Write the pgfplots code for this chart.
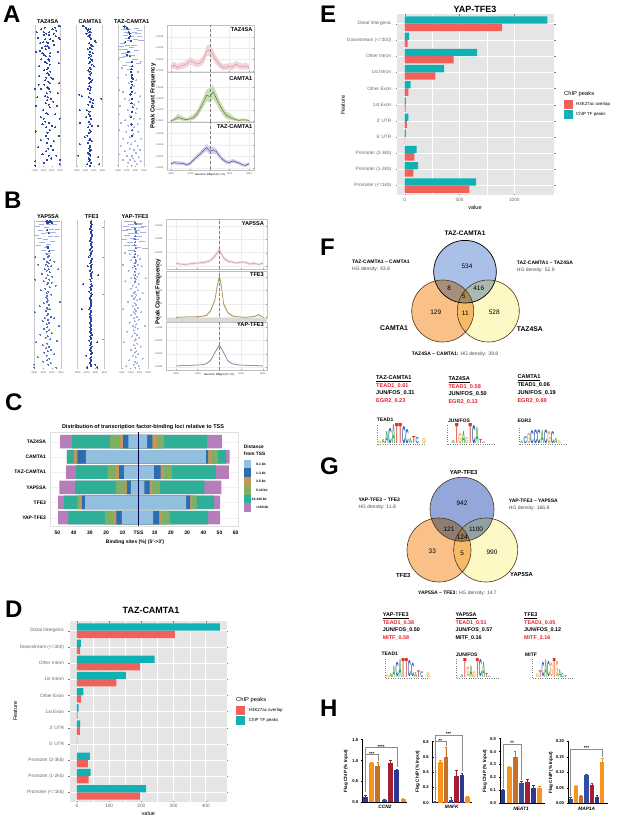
\documentclass[border=0pt]{standalone}
\usepackage{fontspec}
\setmainfont{Liberation Sans}
\usepackage{pgfplots}
\usepackage{pgfplotstable}
\pgfplotsset{compat=1.18}

\definecolor{ggrey}{HTML}{E5E5E5}
\definecolor{chipred}{HTML}{F2605C}
\definecolor{chipteal}{HTML}{0FB1B5}
\definecolor{rasterblue}{HTML}{2A46A0}
\definecolor{rastermid}{HTML}{5A70BC}
\definecolor{rasterlight}{HTML}{A4B2E2}
\definecolor{c01}{HTML}{93BFDF}
\definecolor{c13}{HTML}{2A6DB0}
\definecolor{c35}{HTML}{C2975A}
\definecolor{c510}{HTML}{7FAF64}
\definecolor{c10}{HTML}{2FB096}
\definecolor{c100}{HTML}{B67DBB}
\definecolor{hnavy}{HTML}{2B3990}
\definecolor{horange}{HTML}{F7941D}
\definecolor{hbrown}{HTML}{C46F2B}
\definecolor{hblue}{HTML}{2F4FA5}
\definecolor{hred}{HTML}{A41E34}
\definecolor{logoA}{HTML}{3DA447}
\definecolor{logoC}{HTML}{2F5FB3}
\definecolor{logoG}{HTML}{F0A030}
\definecolor{logoT}{HTML}{D9352B}
\definecolor{mut}{HTML}{E8202E}
\definecolor{vennBlueF}{HTML}{ABC0E8}
\definecolor{vennBlueG}{HTML}{93A7DA}
\definecolor{vennOrange}{HTML}{F9C088}
\definecolor{vennYellow}{HTML}{FDF8C4}
\definecolor{bandAa}{HTML}{F6D5DA}
\definecolor{lineAa}{HTML}{C89AA6}
\definecolor{bandAb}{HTML}{BFE3B4}
\definecolor{lineAb}{HTML}{A8503C}
\definecolor{bandAc}{HTML}{D2D0EE}
\definecolor{lineAc}{HTML}{6B4080}
\definecolor{bandBa}{HTML}{F0DFE6}
\definecolor{lineBa}{HTML}{C79BB0}
\definecolor{bandBb}{HTML}{D5E3B5}
\definecolor{lineBb}{HTML}{A8804A}
\definecolor{bandBc}{HTML}{E2DBEA}
\definecolor{lineBc}{HTML}{8A6F8E}

% everything is placed in picture pixels: 1px = 1pt, y counted down from the top
\newcommand\lbl[5]{\node[anchor=#3,inner sep=0pt,font=\fontsize{#4}{#4}\selectfont] at (#1pt,-#2pt) {#5};}
\newcommand\swatch[5]{\fill[#5] (#1pt,-#2pt) rectangle (#3pt,-#4pt);}

\newcommand\seqlogo[5]{%
  \foreach \col/\bs/\hgt/\ltr in #5 {%
    \pgfmathsetmacro\xx{#1+\col*#3}%
    \pgfmathsetmacro\yy{-#2+\bs*#4}%
    \pgfmathsetmacro\hh{\hgt*#4}%
    \node[anchor=south west,inner sep=0pt,text=logo\ltr] at (\xx pt,\yy pt) {\resizebox{#3 pt}{\hh pt}{\bfseries\ltr}};%
  }
  \pgfmathsetmacro\xe{#1+14*#3}%
  \draw[black!50,line width=.3pt,dotted] (#1pt,-#2pt-.6pt) -- (\xe pt,-#2pt-.6pt);
  \draw[black!50,line width=.3pt,dotted] (#1pt-1pt,-#2pt) -- (#1pt-1pt,-#2pt+#4pt);
}
\newcommand\teadlogo{0/0/.12/G,1/0/.2/A,2/0/.6/A,3/0/.75/C,4/0/.95/A,5/0/1/T,6/0/1/T,7/0/.85/C,8/0/.7/C,9/0/.25/A,10/0/.35/T,11/0/.3/C,13/0/.25/G}
\newcommand\junlogo{1/0/.15/A,2/0/1/T,3/0/.5/G,4/0/.6/A,5/0/.3/G,6/0/1/T,7/0/.9/C,8/0/.8/A,9/0/.2/T,10/0/.06/C}
\newcommand\egrlogo{0/0/.15/A,1/0/.4/C,2/0/.6/G,3/0/.75/C,4/0/.8/C,5/0/.8/C,6/0/.75/A,7/0/.8/C,8/0/.7/G,9/0/.7/C,10/0/.3/A,11/0/.15/G}
\newcommand\mitflogo{1/0/.2/G,2/0/.35/T,3/0/.75/C,4/0/.95/A,5/0/.8/C,6/0/.7/G,7/0/1/T,8/0/.8/G,9/0/.4/A,10/0/.2/C,11/0/.1/T}

\pgfplotsset{
  pxaxis/.style={scale only axis,anchor=north west,/pgf/number format/assume math mode=true,/pgf/number format/1000 sep={}},
  raster/.style={pxaxis,xmin=-3000,xmax=3000,ymin=0,ymax=100,y dir=reverse,
    ytick=\empty,xtick={-3000,-1000,1000,3000},
    xticklabels={-3000,-1000,1000,3000},
    tick label style={font=\fontsize{2.4}{3}\selectfont,text=black!70},
    major tick length=1.2pt,tick style={black!40},xtick pos=bottom,
    xticklabel style={yshift=1pt},
    separate axis lines,
    axis line style={draw=black!22,line width=.9pt},
    every outer x axis line/.append style={draw=none},
    clip=false},
  dots/.style={only marks,mark=*,mark size=.52pt,color=rasterblue,draw=rasterblue,fill=rasterblue,mark options={line width=0pt}},
  mdots/.style={only marks,mark=*,mark size=.5pt,color=rastermid,draw=rastermid,fill=rastermid,mark options={line width=0pt}},
  ldots/.style={only marks,mark=*,mark size=.5pt,color=rasterlight,draw=rasterlight,fill=rasterlight,mark options={line width=0pt}},
  dashes/.style={only marks,mark=-,mark size=2.6pt,color=rasterlight,mark options={line width=.5pt}},
  peak/.style={pxaxis,axis line style={draw=black!25,line width=.5pt},
    grid=major,grid style={black!7,line width=.3pt},
    tick label style={font=\fontsize{2.4}{3}\selectfont,text=black!70},
    major tick length=1pt,tick style={black!40},
    ytick={1,2,3,4},yticklabels={0.0001,0.0002,0.0003,0.0004},
    xtick={-3000,-1500,0,1500,3000},xticklabels=\empty,ymin=.9},
  chip/.style={pxaxis,xbar,axis background/.style={fill=ggrey},
    axis line style={draw=none},grid=both,major grid style={white,line width=.6pt},
    minor grid style={white,line width=.3pt},minor x tick num=1,
    ymin=-.6,ymax=10.6,ytick={0,...,10},
    yticklabels={Promoter (<=1kb),Promoter (1-2kb),Promoter (2-3kb),5' UTR,3' UTR,1st Exon,Other Exon,1st Intron,Other Intron,Downstream (<=300),Distal Intergenic},
    tick label style={font=\fontsize{4.7}{5}\selectfont,text=black!60},
    major tick length=1.5pt,tick style={black!50},minor tick length=0pt,
    xticklabel style={yshift=1pt},yticklabel style={xshift=-1pt}},
  hbars/.style={pxaxis,axis x line=bottom,axis y line=left,axis line style={-,line width=.7pt,black},
    xtick=\empty,clip=false,ymin=0,
    tick label style={font=\fontsize{4.2}{5}\selectfont\bfseries},
    major tick length=2pt,tick style={black,line width=.5pt},
    yticklabel style={xshift=.5pt}}
}
\newcommand\chipbar[5]{\addplot[ybar,bar width=#5pt,bar shift=0pt,fill=#4,draw=none,
    error bars/.cd,y dir=plus,y explicit,
    error bar style={draw=#4,line width=.5pt},
    error mark options={rotate=90,mark size=1.2pt,draw=#4,line width=.4pt}]
    coordinates {(#1,#2) +- (0,#3)};}
\newcommand\sigline[1]{\addplot[black!45,line width=.5pt,sharp plot,forget plot] coordinates {#1};}
% one profile: band between lo and hi, mean line on top, dashed TSS mark
\newcommand\profile[4]{%
  \addplot[draw=none,forget plot,stack plots=y] table[x=x,y=lo] {#1};
  \addplot[fill=#2,draw=none,forget plot,stack plots=y] table[x=x,y expr=\thisrow{hi}-\thisrow{lo}] {#1} \closedcycle;
  \addplot[color=#3,line width=.5pt,stack plots=false] table[x=x,y=y] {#1};
  \addplot[black!50,densely dashed,line width=.4pt,stack plots=false] coordinates {(0,0)(0,#4)};
}

% peak profiles: position, mean, band
\pgfplotstableread{
x y lo hi
-3000 1.35 1.05 1.65
-2750 1.50 1.20 1.80
-2500 1.30 1.05 1.60
-2250 1.45 1.15 1.75
-2000 1.50 1.20 1.80
-1750 1.65 1.35 2.00
-1500 1.90 1.55 2.25
-1250 1.75 1.45 2.05
-1000 1.60 1.30 1.90
-750 1.70 1.40 2.05
-500 2.00 1.60 2.40
-250 2.75 2.30 3.25
0 2.85 2.35 3.35
250 2.40 1.95 2.85
500 1.90 1.50 2.30
750 1.55 1.25 1.90
1000 1.30 1.05 1.60
1250 1.35 1.10 1.65
1500 1.40 1.10 1.70
1750 1.35 1.10 1.65
2000 1.60 1.30 1.90
2250 1.45 1.15 1.75
2500 1.35 1.10 1.65
2750 1.45 1.15 1.75
3000 1.30 1.05 1.60
}\peakAa
\pgfplotstableread{
x y lo hi
-3000 1.03 .98 1.10
-2750 1.10 1.00 1.25
-2500 1.30 1.10 1.60
-2250 1.25 1.05 1.50
-2000 1.15 1.00 1.35
-1750 1.10 1.00 1.25
-1500 1.20 1.05 1.45
-1250 1.30 1.10 1.60
-1000 1.60 1.30 1.95
-750 2.10 1.75 2.50
-500 2.70 2.25 3.15
-250 3.30 2.75 3.85
0 3.20 2.70 3.95
250 3.60 3.00 4.20
500 3.00 2.50 3.55
750 2.40 1.95 2.85
1000 1.90 1.50 2.30
1250 1.50 1.20 1.85
1500 1.35 1.10 1.70
1750 1.20 1.05 1.45
2000 1.10 1.00 1.25
2250 1.05 .98 1.18
2500 1.10 1.00 1.22
2750 1.08 1.00 1.18
3000 1.05 .98 1.12
}\peakAb
\pgfplotstableread{
x y lo hi
-3000 1.35 1.20 1.50
-2750 1.45 1.30 1.60
-2500 1.40 1.25 1.55
-2250 1.40 1.25 1.55
-2000 1.35 1.20 1.50
-1750 1.25 1.12 1.40
-1500 1.40 1.25 1.55
-1250 1.70 1.52 1.88
-1000 1.95 1.75 2.15
-750 2.20 2.00 2.42
-500 2.50 2.25 2.75
-250 2.75 2.45 3.10
0 2.45 2.15 2.80
250 2.55 2.25 2.85
500 2.40 2.15 2.68
750 2.00 1.80 2.22
1000 1.70 1.52 1.88
1250 1.50 1.35 1.68
1500 1.45 1.30 1.62
1750 1.60 1.42 1.78
2000 1.50 1.35 1.65
2250 1.40 1.25 1.55
2500 1.25 1.12 1.40
2750 1.20 1.08 1.35
3000 1.35 1.20 1.50
}\peakAc
\pgfplotstableread{
x y lo hi
-3000 1.22 1.12 1.32
-2700 1.15 1.05 1.25
-2400 1.12 1.04 1.22
-2100 1.15 1.05 1.25
-1800 1.20 1.10 1.30
-1500 1.22 1.12 1.32
-1200 1.25 1.15 1.36
-900 1.30 1.20 1.42
-600 1.40 1.30 1.54
-300 1.75 1.60 1.92
0 2.20 2.00 2.42
300 1.60 1.46 1.76
600 1.35 1.24 1.47
900 1.30 1.20 1.40
1200 1.22 1.12 1.32
1500 1.30 1.20 1.40
1800 1.28 1.18 1.38
2100 1.15 1.05 1.25
2400 1.20 1.10 1.30
2700 1.12 1.04 1.22
3000 1.20 1.10 1.30
}\peakBa
\pgfplotstableread{
x y lo hi
-3000 1.02 .98 1.06
-2700 1.03 .99 1.07
-2400 1.04 1.00 1.08
-2100 1.06 1.02 1.10
-1800 1.05 1.01 1.09
-1500 1.07 1.03 1.11
-1200 1.10 1.05 1.15
-900 1.15 1.09 1.22
-600 1.50 1.40 1.62
-300 2.30 2.15 2.48
-150 3.30 3.10 3.50
0 4.05 3.85 4.25
150 3.30 3.10 3.50
300 2.00 1.86 2.16
600 1.35 1.26 1.45
900 1.12 1.07 1.18
1200 1.07 1.03 1.11
1500 1.04 1.00 1.08
1800 1.02 .98 1.06
2100 1.05 1.01 1.09
2400 1.08 1.04 1.12
2700 1.20 1.13 1.27
3000 1.05 1.01 1.09
}\peakBb
\pgfplotstableread{
x y lo hi
-3000 1.10 1.06 1.14
-2700 1.10 1.06 1.14
-2400 1.12 1.08 1.16
-2100 1.12 1.08 1.16
-1800 1.14 1.10 1.18
-1500 1.15 1.11 1.19
-1200 1.18 1.13 1.23
-900 1.25 1.19 1.31
-600 1.50 1.42 1.58
-300 2.10 2.00 2.20
0 2.65 2.52 2.78
300 2.10 2.00 2.20
600 1.45 1.38 1.53
900 1.25 1.19 1.31
1200 1.18 1.13 1.23
1500 1.15 1.11 1.19
1800 1.14 1.10 1.18
2100 1.12 1.08 1.16
2400 1.12 1.08 1.16
2700 1.10 1.06 1.14
3000 1.10 1.06 1.14
}\peakBc

% cumulative distance classes from the TSS, one row per factor
\pgfplotstableread{
row a b c d e f
0 -6.2 -9.5 -11.7 -17.5 -41.0 -48.4
1 -32.5 -37.7 -39.9 -39.9 -44.2 -44.2
2 -8.8 -11.9 -14.0 -19.1 -38.7 -44.7
3 -4.7 -7.2 -8.6 -13.8 -39.1 -48.8
4 -32.9 -35.0 -36.4 -37.7 -45.9 -49.6
5 -10.3 -13.6 -15.6 -20.6 -43.2 -49.6
}\tssleft
\pgfplotstableread{
row a b c d e f
0 5.3 8.6 11.3 15.8 42.2 51.4
1 41.6 43.0 44.9 49.0 54.1 56.2
2 9.5 13.6 15.6 20.6 47.7 55.8
3 3.7 6.8 8.4 13.4 40.7 51.2
4 29.4 31.9 32.9 35.8 46.7 50.4
5 9.0 12.8 14.4 19.3 43.0 50.4
}\tssright

\pgfplotstableread{
pos h3k tf
10 304 444
9 10 12
8 195 241
7 122 152
6 13 20
5 2 5
4 9 10
3 0 1
2 34 40
1 36 42
0 195 215
}\tazpeaks
\pgfplotstableread{
pos h3k tf
10 888 1302
9 27 40
8 447 660
7 280 359
6 33 55
5 10 12
4 21 33
3 1 12
2 88 109
1 79 122
0 590 651
}\yappeaks

\begin{document}
\begin{tikzpicture}
\useasboundingbox (0,0) rectangle (617pt,-817pt);

% ---- panel letters
\lbl{3}{22}{base west}{24}{\bfseries A}
\lbl{4}{208}{base west}{24}{\bfseries B}
\lbl{5}{410}{base west}{24}{\bfseries C}
\lbl{5}{617}{base west}{24}{\bfseries D}
\lbl{320}{22}{base west}{24}{\bfseries E}
\lbl{320}{255}{base west}{24}{\bfseries F}
\lbl{320}{474}{base west}{24}{\bfseries G}
\lbl{320}{716}{base west}{24}{\bfseries H}

% ---- A: peak position rasters
\lbl{47.7}{21.7}{center}{5.6}{\bfseries TAZ4SA}
\lbl{90}{21.7}{center}{5.6}{\bfseries CAMTA1}
\lbl{131.7}{21.7}{center}{5.6}{\bfseries TAZ-CAMTA1}
\begin{axis}[raster,at={(35pt,-25pt)},width=25pt,height=142pt]
\addplot[dots] coordinates {(2700,1)(2900,1)(-700,2)(1200,3)(1900,2)(-1500,3)(2100,4)(-900,5)(400,5)(-2600,5)(1500,6)(-300,6)(300,7)(-800,7)(2000,8)(2800,9)(-2300,9)(-500,10)(700,10)(1300,11)(2900,10)(-1000,12)(-200,12)(200,13)(-1700,13)(1500,14)(-600,15)(0,15)(400,16)(-1300,16)(-400,17)(-1800,18)(-2800,19)(2600,19)(-1200,20)(700,20)(-900,21)(-400,22)(500,22)(200,24)(-1500,24)(400,25)(-500,26)(-200,27)(500,28)(2700,27)(-2000,29)(200,30)(-100,31)(-800,32)(700,33)(0,34)(400,35)(-2000,36)(-300,37)(900,37)(1300,38)(-600,39)(200,40)(500,41)(2800,41)(-800,42)(-2100,42)(0,44)(-1500,45)(300,45)(-2950,45)(700,47)(-200,48)(2500,48)(-600,50)(100,51)(-2500,51)(900,52)(-100,53)(1400,54)(-400,55)(300,56)(-2700,57)(2200,57)(500,58)(-1000,60)(-300,62)(100,63)(1800,63)(-1600,65)(-900,66)(2900,66)(-500,68)(300,69)(-1200,70)(1000,71)(-300,72)(1900,72)(500,74)(-2800,75)(0,76)(-400,78)(2800,78)(200,80)(-1600,81)(1500,82)(-100,83)(800,85)(-2200,86)(200,87)(1400,88)(-300,89)(-1200,91)(300,92)(2100,92)(900,94)(-100,95)(2950,95)(-2950,96)(-800,97)(2950,98)(-2950,99)};
\end{axis}
\begin{axis}[raster,at={(76.7pt,-25pt)},width=25.6pt,height=142pt]
\addplot[dots] coordinates {(-1600,1)(-1300,1)(-900,2)(-600,3)(-200,3)(200,3)(-400,4)(0,5)(300,5)(-700,6)(100,7)(-300,8)(-100,8)(200,9)(400,10)(1300,11)(1500,12)(-100,13)(300,14)(700,15)(100,16)(-400,17)(500,17)(200,19)(800,20)(0,21)(400,22)(-200,23)(300,24)(600,25)(200,26)(-100,27)(500,28)(1000,29)(100,30)(300,31)(-300,32)(0,33)(400,34)(200,35)(-200,37)(100,38)(600,39)(300,40)(-100,41)(0,43)(300,44)(-400,45)(200,46)(100,48)(-2400,49)(-1800,50)(-200,51)(400,52)(2800,52)(900,53)(100,54)(800,55)(-300,56)(600,57)(700,58)(-2300,60)(-600,60)(0,61)(-200,63)(200,64)(-800,65)(400,66)(-100,68)(-2300,69)(200,70)(600,71)(2000,71)(-300,72)(100,74)(300,75)(-100,76)(-500,78)(-1100,79)(200,80)(0,81)(500,82)(-300,83)(-2300,84)(100,85)(200,86)(-100,87)(300,88)(100,89)(-400,90)(0,91)(200,92)(-2600,92)(2100,93)(-200,94)(100,95)(-100,96)(300,97)(-500,98)(2300,98)(100,99)};
\end{axis}
\begin{axis}[raster,at={(118pt,-25pt)},width=26pt,height=142pt]
\addplot[dashes] coordinates {(-1500,1)(-1000,2)(1200,2)(-1700,3)(-500,3)(1900,4)(-1000,5)(800,5)(-400,6)(1600,6)(-1300,7)(200,8)(2000,8)(-800,9)(1100,10)(-300,11)(2300,11)(-2000,13)(-900,14)(700,14)(-2300,15)(200,16)(-1400,17)(-2500,17)(1300,18)(-700,19)(-1800,20)(400,21)(-1200,22)(-2200,23)(900,24)(-600,26)(-1500,28)(100,29)(1700,27)(-400,31)};
\addplot[dots,mark size=.6pt] coordinates {(-1500,1)(-900,2)(-700,3)(-500,5)(-300,6)(-200,8)(-400,9)(0,11)(-1300,12)(-600,19)(-1000,21)(-300,22)(200,26)(300,29)(100,31)(0,33)(300,35)(200,37)(400,38)(100,40)(300,42)(0,44)(200,47)(-100,49)(300,52)(100,55)(400,58)(200,61)(0,65)(100,70)(300,74)(200,78)};
\addplot[ldots] coordinates {(-2800,24)(2200,26)(-2100,30)(1600,33)(-1100,35)(-2900,37)(1200,39)(-500,41)(800,43)(-2700,46)(-1800,47)(1000,48)(2100,50)(-1500,52)(-400,53)(1800,54)(800,56)(-2500,57)(1300,59)(-700,60)(1100,62)(-2800,63)(-300,64)(600,66)(2000,66)(-1300,67)(-2200,69)(1500,70)(-600,71)(800,72)(-2700,74)(-1100,75)(1700,75)(500,77)(-300,79)(-1800,80)(2400,80)(1000,82)(-800,83)(100,84)(-2400,85)(1500,85)(-300,87)(600,88)(2100,88)(-1400,89)(1100,90)(-2800,91)(200,92)(-900,92)(1800,93)(400,94)(-200,95)(-1800,95)(900,96)(2300,96)(-600,97)(1300,98)(200,99)(-2900,99)};
\end{axis}
\lbl{153}{96}{center}{6}{\rotatebox{90}{\bfseries Peak Count Frequency}}

% ---- A: peak profiles
\begin{axis}[peak,at={(167pt,-25pt)},width=87pt,height=47pt,xmin=-3300,xmax=3385,ymax=5.03,ymin=.91]
\profile{\peakAa}{bandAa}{lineAa}{5.03}
\end{axis}
\lbl{252.5}{30}{east}{5.6}{\bfseries TAZ4SA}
\begin{axis}[peak,at={(167pt,-72pt)},width=87pt,height=50pt,xmin=-3300,xmax=3385,ymin=.9,ymax=5.4]
\profile{\peakAb}{bandAb}{lineAb}{5.4}
\end{axis}
\lbl{252.5}{78.5}{east}{5.6}{\bfseries CAMTA1}
\begin{axis}[peak,at={(167pt,-122pt)},width=87pt,height=48pt,xmin=-3300,xmax=3385,ymin=.8,ymax=5,xticklabels={-3000,-1500,0,1500,3000},xticklabel style={yshift=1pt}]
\profile{\peakAc}{bandAc}{lineAc}{5}
\end{axis}
\lbl{252.5}{127}{east}{5.6}{\bfseries TAZ-CAMTA1}
\lbl{210}{175}{center}{2.8}{Genomic Region (5'->3')}

% ---- B: peak position rasters
\lbl{48}{216.7}{center}{5.6}{\bfseries YAP5SA}
\lbl{91.7}{216.7}{center}{5.6}{\bfseries TFE3}
\lbl{135}{216.7}{center}{5.6}{\bfseries YAP-TFE3}
\begin{axis}[raster,at={(34pt,-220pt)},width=27pt,height=149pt]
\addplot[dashes] coordinates {(-1900,1)(-600,1)(900,1)(2100,1)(-1300,3)(300,3)(1500,3)(-2300,4)(-300,5)(900,6)(2200,6)(-1600,7)(200,8)(1400,8)(-900,9)(-2400,10)(700,11)(2000,11)(-1700,12)(-500,13)(1100,14)(-1200,15)(300,16)(-2000,17)(-300,18)(-900,20)(1200,20)(100,22)};
\addplot[dots] coordinates {(-300,1)(100,1)(500,1)(700,1)(0,2)(1000,2)(-100,7)(300,9)(0,18)(200,19)(400,21)};
\addplot[mdots] coordinates {(-200,23)(300,24)(-2700,25)(100,25)(-800,26)(600,27)(-100,28)(1500,28)(300,29)(-400,30)(-2000,30)(100,31)(800,31)(-600,33)(300,33)(2400,33)(-200,34)(500,35)(-1200,36)(100,37)(1100,38)(-300,39)(-2700,40)(400,40)(-800,41)(100,42)(900,42)(-100,43)(1800,44)(500,45)(-500,46)(-1500,47)(200,48)(-200,49)(800,50)(0,51)(-300,52)(0,53)(100,54)(-100,55)(2800,55)(-800,56)(300,57)(-1700,58)(-100,59)(100,60)(500,60)(-300,61)(-2800,62)(200,63)(-100,64)(700,65)(1500,66)(-600,66)(100,67)(-1100,68)(300,69)(-200,70)(2500,71)(0,72)(-800,73)(400,74)(-200,75)(1000,76)(-1600,77)(100,78)(-400,79)(600,80)(2100,81)(-2500,82)(0,83)(-1000,84)(300,85)(-300,86)(800,87)(100,88)(-700,89)(1500,90)(-200,91)(-2200,92)(400,93)(0,94)(-900,95)(700,96)(-2900,97)(200,97)(-2900,99)(1900,99)};
\end{axis}
\begin{axis}[raster,at={(77.3pt,-220pt)},width=27pt,height=149pt]
\addplot[dots] coordinates {(100,1)(-50,2)(200,3)(0,4)(150,5)(-100,6)(250,7)(50,8)(-50,9)(200,10)(300,11)(0,12)(150,13)(-150,14)(250,15)(50,16)(-50,17)(200,18)(100,19)(-200,20)(300,21)(0,22)(150,23)(-100,24)(-500,25)(250,26)(50,27)(100,28)(-100,29)(200,30)(0,31)(-700,31)(150,32)(100,33)(-200,34)(300,35)(50,36)(-50,37)(1700,37)(150,38)(200,39)(-100,40)(0,41)(-1700,43)(100,43)(250,44)(-150,45)(50,46)(-50,47)(-300,48)(100,49)(200,50)(0,51)(-100,52)(-200,53)(50,54)(150,55)(100,56)(0,57)(-50,58)(-150,59)(-300,60)(-2000,60)(50,61)(100,62)(-100,63)(0,64)(-200,65)(150,66)(-50,67)(100,68)(-250,69)(0,70)(50,71)(-100,72)(150,73)(-50,74)(-200,75)(100,76)(300,77)(-100,78)(0,79)(150,80)(-300,81)(50,82)(1400,82)(100,83)(-100,84)(200,85)(0,86)(-200,87)(100,88)(250,89)(-50,90)(-1000,91)(50,92)(-100,93)(150,94)(0,95)(-200,96)(1000,97)(100,97)(-50,98)(1400,99)(-800,99)};
\addplot[only marks,mark=-,mark size=1pt,color=black!40,mark options={line width=.3pt}] coordinates {(2800,5)(2800,25)(2800,50)(2800,80)};
\end{axis}
\begin{axis}[raster,at={(121.7pt,-220pt)},width=26.6pt,height=149pt]
\addplot[dashes,mark size=3pt] coordinates {(-1700,1)(-400,1)(1100,2)(-1000,3)(800,3)(-2000,4)(2100,4)(-300,5)(1300,5)(-1400,6)(500,7)(-2300,7)(1800,8)(-900,9)(200,9)(-1800,10)(1000,11)(-500,12)(-2400,13)(300,13)(1600,14)(-1100,15)(-300,17)(-1900,17)(700,18)(2200,19)(-800,20)};
\addplot[mdots] coordinates {(-100,2)(100,2)(300,3)(-50,6)(150,8)(50,11)(-100,13)(100,15)(0,17)(150,19)(-50,21)(100,23)(0,25)(150,27)(50,29)(-100,31)(200,33)(0,35)(100,37)(-100,39)(50,41)};
\addplot[ldots] coordinates {(-2300,22)(-1200,23)(600,24)(-400,25)(1100,26)(-900,27)(300,28)(-200,29)(-2700,30)(700,30)(1500,31)(-500,32)(300,33)(-1400,34)(100,35)(800,36)(-300,37)(500,38)(-800,39)(2400,39)(200,40)(-2200,41)(-100,42)(900,43)(-500,44)(300,45)(-1000,46)(600,47)(0,48)(-300,49)(1800,49)(300,50)(-700,51)(100,52)(-200,53)(1100,53)(500,54)(-1500,55)(-100,56)(200,57)(-500,58)(700,59)(0,60)(-2700,60)(300,61)(-300,62)(1400,62)(100,63)(-800,64)(400,65)(-200,66)(800,67)(0,68)(-1200,69)(300,70)(-500,71)(2200,71)(100,72)(600,73)(-300,74)(-1700,75)(0,76)(400,77)(-600,78)(1000,79)(200,80)(-100,81)(-2400,82)(500,83)(-300,84)(1300,85)(100,86)(-900,87)(300,88)(-100,89)(700,90)(-500,91)(200,92)(1700,93)(-1300,94)(0,95)(500,96)(-300,97)(-2000,98)(900,98)(100,99)};
\end{axis}
\lbl{158}{291.7}{center}{6}{\rotatebox{90}{\bfseries Peak Count Frequency}}

% ---- B: peak profiles
\begin{axis}[peak,at={(166pt,-219pt)},width=101pt,height=50pt,xmin=-3676,xmax=3290,ymin=.78,ymax=4.5]
\profile{\peakBa}{bandBa}{lineBa}{4.5}
\end{axis}
\lbl{264}{223.5}{east}{5.6}{\bfseries YAP5SA}
\begin{axis}[peak,at={(166pt,-271pt)},width=101pt,height=47pt,xmin=-3676,xmax=3290,ymin=.97,ymax=4.45]
\profile{\peakBb}{bandBb}{lineBb}{4.45}
\end{axis}
\lbl{264}{275}{east}{5.6}{\bfseries TFE3}
\begin{axis}[peak,at={(166pt,-322pt)},width=101pt,height=48pt,xmin=-3676,xmax=3290,ymin=.78,ymax=4.4,xticklabels={-3000,-1500,0,1500,3000},xticklabel style={yshift=1pt}]
\profile{\peakBc}{bandBc}{lineBc}{4.4}
\end{axis}
\lbl{264}{324.5}{east}{5.6}{\bfseries YAP-TFE3}
\lbl{219}{374.5}{center}{2.8}{Genomic Region (5'->3')}
\fill[black!15] (166pt,-318pt) rectangle (267pt,-322pt);

% ---- C: distribution around the TSS
\lbl{143}{427.3}{center}{5.5}{\bfseries Distribution of transcription factor-binding loci relative to TSS}
\begin{axis}[pxaxis,at={(50pt,-432pt)},width=188pt,height=94pt,
    xbar,bar width=13.5pt,bar shift=0pt,y dir=reverse,
    xmin=-54.6,xmax=61.4,ymin=-.64,ymax=5.55,
    xtick={-50,-40,-30,-20,-10,0,10,20,30,40,50,60},
    xticklabels={50,40,30,20,10,TSS,10,20,30,40,50,60},
    ytick={0,...,5},yticklabels={TAZ4SA,CAMTA1,TAZ-CAMTA1,YAP5SA,TFE3,YAP-TFE3},
    tick label style={font=\fontsize{5}{6}\selectfont\bfseries},
    major tick length=0pt,axis line style={draw=black!12,line width=.8pt},
    ymajorgrids,major grid style={black!6,line width=.3pt},
    xticklabel style={yshift=-1pt},yticklabel style={xshift=-.5pt}]
\addplot[fill=c100,draw=none] table[x=f,y=row] {\tssleft};
\addplot[fill=c10,draw=none] table[x=e,y=row] {\tssleft};
\addplot[fill=c510,draw=none] table[x=d,y=row] {\tssleft};
\addplot[fill=c35,draw=none] table[x=c,y=row] {\tssleft};
\addplot[fill=c13,draw=none] table[x=b,y=row] {\tssleft};
\addplot[fill=c01,draw=none] table[x=a,y=row] {\tssleft};
\addplot[fill=c100,draw=none] table[x=f,y=row] {\tssright};
\addplot[fill=c10,draw=none] table[x=e,y=row] {\tssright};
\addplot[fill=c510,draw=none] table[x=d,y=row] {\tssright};
\addplot[fill=c35,draw=none] table[x=c,y=row] {\tssright};
\addplot[fill=c13,draw=none] table[x=b,y=row] {\tssright};
\addplot[fill=c01,draw=none] table[x=a,y=row] {\tssright};
\addplot[sharp plot,black!70!blue,line width=.6pt] coordinates {(0,-.64)(0,5.55)};
\end{axis}
\lbl{135}{542.7}{center}{5}{\bfseries Binding sites (\%) (5'->3')}
\lbl{243.7}{447}{west}{4.8}{\bfseries Distance}
\lbl{243.7}{453.7}{west}{4.8}{\bfseries from TSS}
\swatch{244}{459.7}{251}{468.3}{c01}\lbl{256}{464}{west}{3.3}{\bfseries 0-1 kb}
\swatch{244}{468.3}{251}{477}{c13}\lbl{256}{473}{west}{3.3}{\bfseries 1-3 kb}
\swatch{244}{477}{251}{486}{c35}\lbl{256}{481.5}{west}{3.3}{\bfseries 3-5 kb}
\swatch{244}{486}{251}{494.7}{c510}\lbl{256}{490.7}{west}{3.3}{\bfseries 5-10 kb}
\swatch{244}{494.7}{251}{503.3}{c10}\lbl{251.5}{499}{west}{3.3}{\bfseries 10-100 kb}
\swatch{244}{503.3}{251}{512}{c100}\lbl{256}{507.7}{west}{3.3}{\bfseries >100 kb}

% ---- D: genomic features, TAZ-CAMTA1
\lbl{151}{610}{center}{9}{\bfseries TAZ-CAMTA1}
\begin{axis}[chip,at={(70pt,-621pt)},width=156.7pt,height=181pt,xmin=-21.7,xmax=465,xtick={0,100,200,300,400},bar width=7.3pt]
\addplot[fill=chipred,draw=none,bar shift=-3.65pt] table[x=h3k,y=pos] {\tazpeaks};
\addplot[fill=chipteal,draw=none,bar shift=3.65pt] table[x=tf,y=pos] {\tazpeaks};
\end{axis}
\lbl{15.3}{711}{center}{5.6}{\rotatebox{90}{Feature}}
\lbl{148.3}{813}{center}{5.6}{value}
\lbl{236}{700.3}{west}{5.8}{ChIP peaks}
\swatch{236}{706}{245}{715}{chipred}\lbl{248.7}{710.7}{west}{4.4}{H3K27ac overlap}
\swatch{236}{716}{245}{725}{chipteal}\lbl{248.7}{720.3}{west}{4.4}{ChIP TF peaks}

% ---- E: genomic features, YAP-TFE3
\lbl{475}{9}{center}{9}{\bfseries YAP-TFE3}
\begin{axis}[chip,at={(397.3pt,-14pt)},width=157pt,height=181.3pt,xmin=-67,xmax=1365,xtick={0,500,1000},minor x tick num=1,bar width=7.3pt]
\addplot[fill=chipred,draw=none,bar shift=-3.65pt] table[x=h3k,y=pos] {\yappeaks};
\addplot[fill=chipteal,draw=none,bar shift=3.65pt] table[x=tf,y=pos] {\yappeaks};
\end{axis}
\lbl{343}{105}{center}{5.6}{\rotatebox{90}{Feature}}
\lbl{475}{207}{center}{5.6}{value}
\lbl{564}{94}{west}{5.8}{ChIP peaks}
\swatch{564}{100}{573}{109}{chipred}\lbl{576}{104.5}{west}{4.4}{H3K27ac overlap}
\swatch{564}{110}{573}{119}{chipteal}\lbl{576}{114.5}{west}{4.4}{ChIP TF peaks}

% ---- F: venn and motifs
\lbl{465}{233}{center}{6.5}{\bfseries TAZ-CAMTA1}
\begin{scope}[blend mode=multiply]
\fill[vennOrange] (442.7pt,-311pt) circle (31pt);
\fill[vennYellow] (488.3pt,-311pt) circle (31pt);
\fill[vennBlueF] (465pt,-271.7pt) circle (31.3pt);
\end{scope}
\draw[black!60!brown,line width=.6pt] (442.7pt,-311pt) circle (31pt) (488.3pt,-311pt) circle (31pt);
\draw[black,line width=.7pt] (465pt,-271.7pt) circle (31.3pt);
\lbl{467}{266}{center}{6.5}{534}
\lbl{449.3}{288.3}{center}{6.5}{8}
\lbl{478.7}{288.3}{center}{6.5}{416}
\lbl{464}{296}{center}{6.5}{5}
\lbl{435.7}{312.3}{center}{6.5}{129}
\lbl{465.3}{313}{center}{6.5}{11}
\lbl{494.3}{312.3}{center}{6.5}{528}
\lbl{352}{261.7}{west}{5}{\bfseries TAZ-CAMTA1 – CAMTA1}
\lbl{352}{269}{west}{5}{\textcolor{black!70}{HG density: 43.8}}
\lbl{516.7}{262.7}{west}{5}{\bfseries TAZ-CAMTA1 – TAZ4SA}
\lbl{516.7}{270}{west}{5}{\textcolor{black!70}{HG density: 52.9}}
\lbl{380}{328}{west}{6.8}{\bfseries CAMTA1}
\lbl{516.7}{328.7}{west}{6.8}{\bfseries TAZ4SA}
\lbl{411.7}{354.3}{west}{5}{\textbf{TAZ4SA – CAMTA1:} \textcolor{black!70}{HG density: 39.8}}
\lbl{376}{378.7}{west}{5.6}{\bfseries\underline{TAZ-CAMTA1}}
\lbl{376}{385.7}{west}{5.6}{\bfseries\textcolor{mut}{TEAD1\_0.61}}
\lbl{376}{393}{west}{5.6}{\bfseries JUN/FOS\_0.31}
\lbl{376}{401}{west}{5.6}{\bfseries\textcolor{mut}{EGR2\_0.23}}
\lbl{448.3}{379.5}{west}{5.6}{\bfseries\underline{TAZ4SA}}
\lbl{448.3}{386.7}{west}{5.6}{\bfseries\textcolor{mut}{TEAD1\_0.58}}
\lbl{448.3}{393.7}{west}{5.6}{\bfseries JUN/FOS\_0.50}
\lbl{448.3}{401.7}{west}{5.6}{\bfseries\textcolor{mut}{EGR2\_0.13}}
\lbl{517.3}{378}{west}{5.6}{\bfseries\underline{CAMTA1}}
\lbl{517.3}{385.3}{west}{5.6}{\bfseries TEAD1\_0.06}
\lbl{517.3}{392.7}{west}{5.6}{\bfseries JUN/FOS\_0.19}
\lbl{517.3}{400.7}{west}{5.6}{\bfseries\textcolor{mut}{EGR2\_0.69}}
\lbl{376.7}{420}{west}{5}{\bfseries TEAD1}
\lbl{448}{420.3}{west}{5}{\bfseries JUN/FOS}
\lbl{517.3}{420.5}{west}{5}{\bfseries EGR2}
\seqlogo{378}{444}{3.4}{20}{\teadlogo}
\seqlogo{448}{444}{3.4}{20}{\junlogo}
\seqlogo{520}{444}{3.4}{17}{\egrlogo}

% ---- G: venn and motifs
\lbl{463.7}{473}{center}{5.8}{\bfseries YAP-TFE3}
\begin{scope}[blend mode=multiply]
\fill[vennOrange] (439pt,-550pt) circle (32pt);
\fill[vennYellow] (485.7pt,-550pt) circle (32pt);
\fill[vennBlueG] (462pt,-509.3pt) circle (32pt);
\end{scope}
\draw[black!60!brown,line width=.6pt] (439pt,-550pt) circle (32pt) (485.7pt,-550pt) circle (32pt) (462pt,-509.3pt) circle (32pt);
\lbl{462}{503.3}{center}{6.5}{942}
\lbl{449}{529}{center}{6.5}{121}
\lbl{476}{529}{center}{6.5}{1100}
\lbl{462.3}{537.3}{center}{6.5}{124}
\lbl{432.3}{551.7}{center}{6.5}{33}
\lbl{462.3}{553.7}{center}{6.5}{5}
\lbl{492}{552}{center}{6.5}{990}
\lbl{358.3}{499.7}{west}{5}{\bfseries YAP-TFE3 – TFE3}
\lbl{358.3}{507}{west}{5}{\textcolor{black!70}{HG density: 11.8}}
\lbl{508.7}{500.3}{west}{5}{\bfseries YAP-TFE3 – YAP5SA}
\lbl{508.7}{507.7}{west}{5}{\textcolor{black!70}{HG density: 166.8}}
\lbl{396}{575.7}{west}{5.8}{\bfseries TFE3}
\lbl{510}{574.7}{west}{5.8}{\bfseries YAP5SA}
\lbl{418}{593}{west}{5}{\textbf{YAP5SA – TFE3:} \textcolor{black!70}{HG density: 14.7}}
\lbl{382.7}{616}{west}{5.4}{\bfseries\underline{YAP-TFE3}}
\lbl{382.7}{623.3}{west}{5.4}{\bfseries\textcolor{mut}{TEAD1\_0.38}}
\lbl{382.7}{630.3}{west}{5.4}{\bfseries JUN/FOS\_0.50}
\lbl{382.7}{638}{west}{5.4}{\bfseries\textcolor{mut}{MITF\_0.58}}
\lbl{455.3}{616}{west}{5.4}{\bfseries\underline{YAP5SA}}
\lbl{455.3}{623.3}{west}{5.4}{\bfseries\textcolor{mut}{TEAD1\_0.51}}
\lbl{455.3}{630.3}{west}{5.4}{\bfseries JUN/FOS\_0.57}
\lbl{455.3}{638}{west}{5.4}{\bfseries MITF\_0.16}
\lbl{524}{616}{west}{5.4}{\bfseries\underline{TFE3}}
\lbl{524}{623.3}{west}{5.4}{\bfseries\textcolor{mut}{TEAD1\_0.05}}
\lbl{524}{630.3}{west}{5.4}{\bfseries JUN/FOS\_0.12}
\lbl{524}{638}{west}{5.4}{\bfseries\textcolor{mut}{MITF\_2.16}}
\lbl{381.3}{654}{west}{5}{\bfseries TEAD1}
\lbl{455.7}{655}{west}{5}{\bfseries JUN/FOS}
\lbl{525}{654.5}{west}{5}{\bfseries MITF}
\seqlogo{386}{677.3}{3.1}{19}{\teadlogo}
\seqlogo{457}{677.3}{3.1}{19}{\junlogo}
\seqlogo{533}{677.3}{2.8}{19}{\mitflogo}

% ---- H: ChIP-qPCR
\begin{axis}[hbars,at={(362.3pt,-739.7pt)},width=44.7pt,height=62.6pt,xmin=.52,xmax=7.59,ymax=1.5,ytick={0,.5,1,1.5},yticklabels={0.0,0.5,1.0,1.5}]
\chipbar{1}{.12}{.04}{hnavy}{5}
\chipbar{2}{.95}{.02}{horange}{5}
\chipbar{3}{.87}{.08}{hbrown}{5}
\chipbar{4}{.06}{.01}{hblue}{5}
\chipbar{5}{.94}{.08}{hred}{5}
\chipbar{6}{.78}{.02}{hnavy}{5}
\chipbar{7}{.07}{.03}{horange}{5}
\sigline{(1,.25)(1,1.16)(3,1.16)(3,1.0)}
\sigline{(1,1.16)(1,1.31)(6,1.31)(6,.85)}
\node[font=\fontsize{4.5}{5}\selectfont\bfseries] at (axis cs:2,1.17) {***};
\node[font=\fontsize{4.5}{5}\selectfont\bfseries] at (axis cs:3.5,1.32) {****};
\end{axis}
\begin{axis}[hbars,at={(432.7pt,-741.7pt)},width=39pt,height=61pt,xmin=.57,xmax=7.8,ymax=.8,ytick={0,.2,.4,.6,.8},yticklabels={0.0,0.2,0.4,0.6,0.8}]
\chipbar{1}{.01}{.005}{hnavy}{4.5}
\chipbar{2}{.53}{.03}{horange}{4.5}
\chipbar{3}{.60}{.13}{hbrown}{4.5}
\chipbar{4}{.04}{.03}{hblue}{4.5}
\chipbar{5}{.35}{.07}{hred}{4.5}
\chipbar{6}{.36}{.03}{hnavy}{4.5}
\chipbar{7}{.07}{.01}{horange}{4.5}
\sigline{(1,.04)(1,.80)(3,.80)(3,.75)}
\sigline{(1,.80)(1,.89)(6,.89)(6,.41)}
\node[font=\fontsize{4.5}{5}\selectfont\bfseries] at (axis cs:2,.81) {**};
\node[font=\fontsize{4.5}{5}\selectfont\bfseries] at (axis cs:3.5,.90) {***};
\end{axis}
\begin{axis}[hbars,at={(500pt,-738.7pt)},width=45pt,height=64.3pt,xmin=.51,xmax=7.87,ymax=.5,ytick={0,.1,.2,.3,.4,.5},yticklabels={0.0,0.1,0.2,0.3,0.4,0.5}]
\chipbar{1}{.10}{.01}{hnavy}{4.8}
\chipbar{2}{.28}{.005}{horange}{4.8}
\chipbar{3}{.36}{.04}{hbrown}{4.8}
\chipbar{4}{.155}{.015}{hblue}{4.8}
\chipbar{5}{.16}{.025}{hred}{4.8}
\chipbar{6}{.12}{.015}{hnavy}{4.8}
\chipbar{7}{.12}{.01}{horange}{4.8}
\sigline{(1,.12)(1,.46)(4,.46)(4,.18)}
\node[font=\fontsize{4.5}{5}\selectfont\bfseries] at (axis cs:2.5,.47) {**};
\end{axis}
\begin{axis}[hbars,at={(568pt,-741.3pt)},width=40pt,height=62pt,xmin=.49,xmax=8.08,ymax=.2,ytick={0,.05,.1,.15,.2},yticklabels={0.00,0.05,0.10,0.15,0.20}]
\chipbar{1}{.015}{.004}{hblue}{4.2}
\chipbar{2}{.055}{.004}{horange}{4.2}
\chipbar{3}{.022}{.003}{hbrown}{4.2}
\chipbar{4}{.09}{.004}{hblue}{4.2}
\chipbar{5}{.06}{.004}{hred}{4.2}
\chipbar{6}{.02}{.005}{hnavy}{4.2}
\chipbar{7}{.133}{.012}{horange}{4.2}
\sigline{(1,.025)(1,.174)(7,.174)(7,.15)}
\node[font=\fontsize{4.5}{5}\selectfont\bfseries] at (axis cs:4,.178) {***};
\end{axis}
\lbl{346}{771}{center}{4.6}{\rotatebox{90}{\bfseries Flag ChIP (\% Input)}}
\lbl{417.7}{771.7}{center}{4.6}{\rotatebox{90}{\bfseries Flag ChIP (\% Input)}}
\lbl{485}{771}{center}{4.6}{\rotatebox{90}{\bfseries Flag ChIP (\% Input)}}
\lbl{551}{772.7}{center}{4.6}{\rotatebox{90}{\bfseries Flag ChIP (\% Input)}}
\lbl{385}{807.3}{center}{4.8}{\bfseries\itshape CCN2}
\lbl{451.7}{807.3}{center}{4.8}{\bfseries\itshape MAFK}
\lbl{521}{808.7}{center}{4.8}{\bfseries\itshape NEAT1}
\lbl{586.7}{808.7}{center}{4.8}{\bfseries\itshape MAP1A}
\end{tikzpicture}
\end{document}
